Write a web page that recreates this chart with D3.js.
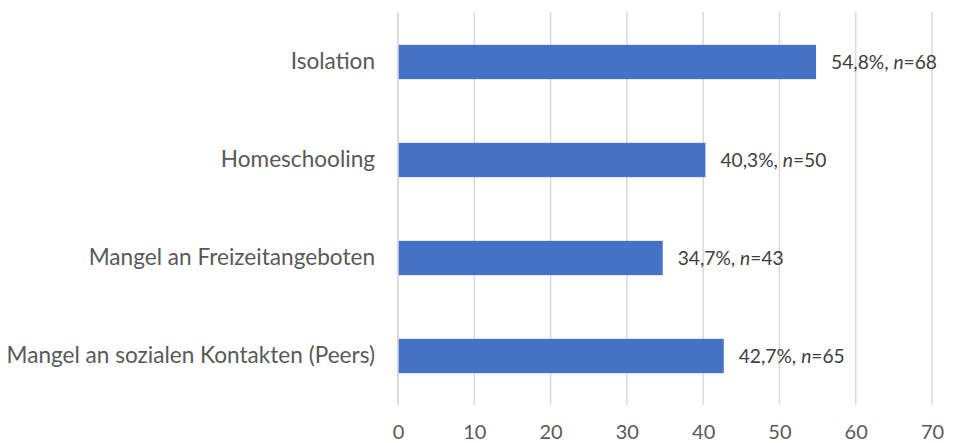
<!DOCTYPE html>
<html><head><meta charset="utf-8">
<script src="https://cdn.jsdelivr.net/npm/d3@7"></script>
<style>body{margin:0;background:#fff;} text{font-family:Lato,"Open Sans",sans-serif;}</style>
</head><body>
<svg id="c" width="953" height="443"></svg>
<script>
const categories = ["Isolation","Homeschooling","Mangel an Freizeitangeboten","Mangel an sozialen Kontakten (Peers)"];
const values = [54.8, 40.3, 34.7, 42.7];
const counts = [68, 50, 43, 65];
const ticks = [0,10,20,30,40,50,60,70];

const svg = d3.select("#c");
const x = d3.scaleLinear().domain([0,70]).range([398,932]);
const y = d3.scaleBand().domain(categories).range([13,405]).paddingInner(0.65).paddingOuter(0.325);

svg.append("g").selectAll("line").data(ticks).join("line")
  .attr("x1",d=>x(d)).attr("x2",d=>x(d)).attr("y1",12).attr("y2",405)
  .attr("stroke","#d9d9d9").attr("stroke-width",1.5);

const xa = svg.append("g").attr("transform","translate(0,405)")
  .call(d3.axisBottom(x).tickValues(ticks).tickSize(0).tickPadding(20));
xa.select(".domain").remove();
xa.selectAll("text").attr("font-size",20).attr("fill","#595959").attr("font-family","Lato");

const ya = svg.append("g").attr("transform","translate(398,0)")
  .call(d3.axisLeft(y).tickSize(0).tickPadding(23));
ya.select(".domain").remove();
ya.selectAll("text").attr("font-size",22.6).attr("fill","#595959").attr("font-family","Lato");

svg.append("g").selectAll("rect").data(categories).join("rect")
  .attr("x",x(0)).attr("y",d=>y(d)).attr("height",y.bandwidth())
  .attr("width",(d,i)=>x(values[i])-x(0)).attr("fill","#4472c4");

svg.append("line").attr("x1",x(0)).attr("x2",x(0)).attr("y1",12).attr("y2",405)
  .attr("stroke","#d9d9d9").attr("stroke-width",1.5);

const lab = svg.append("g").selectAll("text").data(categories).join("text")
  .attr("x",(d,i)=>x(values[i])+15).attr("y",d=>y(d)+y.bandwidth()/2).attr("dy","0.35em")
  .attr("font-size",19.2).attr("fill","#404040");
lab.append("tspan").text((d,i)=>values[i].toFixed(1).replace(".",",")+"%, ");
lab.append("tspan").attr("font-style","italic").text("n");
lab.append("tspan").text((d,i)=>"="+counts[i]);
</script>
</body></html>
